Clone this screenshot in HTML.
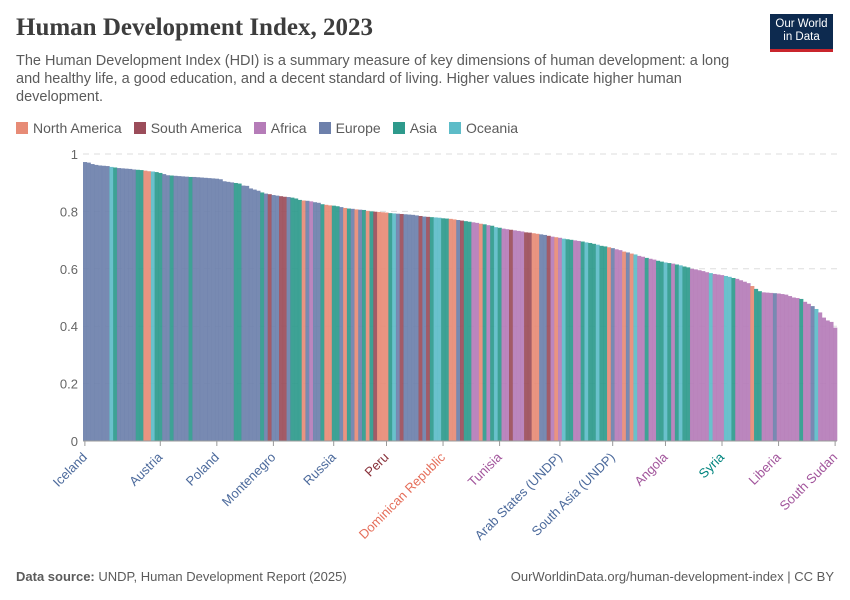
<!DOCTYPE html>
<html><head><meta charset="utf-8">
<style>
body{margin:0;background:#fff;font-family:"Liberation Sans",sans-serif;}
#wrap{position:relative;width:850px;height:600px;overflow:hidden;}
.title{position:absolute;left:16px;top:14px;font-family:"Liberation Serif",serif;font-size:25px;font-weight:bold;color:#3d3d3d;}
.sub{position:absolute;left:16px;top:52px;width:740px;font-size:14.5px;line-height:18px;color:#5b5b5b;}
.logo{position:absolute;left:770px;top:14px;width:63px;height:38px;background:#0d2a4f;color:#fff;font-size:11.5px;line-height:13px;text-align:center;padding-top:4px;box-sizing:border-box;border-bottom:3px solid #c9252c;}
.legend{position:absolute;left:16px;top:120px;font-size:14px;color:#5b5b5b;display:flex;gap:12px;}
.legend span.sw{display:inline-block;width:12px;height:12px;margin-right:5px;vertical-align:-1px;}
.foot{position:absolute;top:569px;font-size:13px;color:#5b5b5b;}
</style></head><body>
<div id="wrap">
<div class="title">Human Development Index, 2023</div>
<div class="sub">The Human Development Index (HDI) is a summary measure of key dimensions of human development: a long and healthy life, a good education, and a decent standard of living. Higher values indicate higher human development.</div>
<div class="logo">Our World<br>in Data</div>
<div class="legend">
<div><span class="sw" style="background:#e78b76"></span>North America</div>
<div><span class="sw" style="background:#9b4d5a"></span>South America</div>
<div><span class="sw" style="background:#b57cb8"></span>Africa</div>
<div><span class="sw" style="background:#6d80ab"></span>Europe</div>
<div><span class="sw" style="background:#2e9a8c"></span>Asia</div>
<div><span class="sw" style="background:#5dbcc8"></span>Oceania</div>
</div>
<svg id="svg" width="850" height="600" style="position:absolute;left:0;top:0"></svg>
<div class="foot" style="left:16px"><b>Data source:</b> UNDP, Human Development Report (2025)</div>
<div class="foot" style="right:16px">OurWorldinData.org/human-development-index | CC BY</div>
</div>
<script>
const values=[.972,.970,.965,.962,.960,.959,.958,.955,.953,.951,
.950,.949,.948,.946,.945,.944,.942,.940,.939,.937,
.934,.930,.926,.925,.924,.923,.922,.921,.920,.920,
.919,.918,.917,.916,.915,.914,.912,.905,.903,.901,
.899,.897,.890,.889,.880,.876,.872,.866,.862,.860,
.857,.855,.853,.851,.850,.848,.845,.840,.838,.837,
.835,.832,.830,.825,.823,.821,.820,.818,.815,.812,
.810,.809,.807,.806,.805,.802,.800,.799,.798,.797,
.796,.794,.793,.792,.791,.790,.789,.788,.786,.784,
.782,.781,.780,.779,.778,.776,.775,.774,.772,.770,
.768,.766,.764,.762,.760,.757,.755,.752,.750,.745,
.743,.740,.738,.736,.734,.732,.730,.727,.726,.724,
.722,.720,.718,.715,.712,.710,.708,.705,.703,.701,
.699,.697,.695,.692,.690,.687,.684,.680,.678,.675,
.672,.668,.665,.660,.657,.653,.650,.645,.642,.638,
.635,.632,.628,.625,.622,.620,.618,.615,.612,.608,
.605,.600,.598,.595,.592,.588,.585,.582,.580,.578,
.575,.572,.568,.565,.560,.555,.550,.540,.530,.522,
.518,.517,.516,.515,.514,.512,.510,.505,.500,.498,
.495,.485,.478,.470,.460,.448,.430,.420,.415,.395];
const regions=("EEEEEEEOAE"+"EEEEAANNOA"+"AEEAEEEEAE"+"EEEEEEEEEE"+"AAEEEEEAES"+"EESSEAAANE"+"FEEANNAAEN"+
"AENEANASNN"+"NAOESEEEES"+"ESAOOAANNE"+"SAAFFNAFAO"+"AFFSFFFSSN"+"NEESFNFOAA"+"FFAOAAOAAN"+
"EFFNENOFFA"+"FFAAOAFAOA"+"AFFFFFOFFF"+"OOAFFFFNAA"+"FFFEFFFFFF"+"AFFEOFFFFF").split('');
const yTicks=[0,0.2,0.4,0.6,0.8,1];
const labelNames=["Iceland","Austria","Poland","Montenegro","Russia","Peru","Dominican Republic","Tunisia","Arab States (UNDP)","South Asia (UNDP)","Angola","Syria","Liberia","South Sudan"];
const labelIdx=[0,20,35,50,66,80,95,110,126,140,154,169,184,199];
const labelColors=["#4c6a9c","#4c6a9c","#4c6a9c","#4c6a9c","#4c6a9c","#883039","#e56e5a","#a2559c","#4c6a9c","#4c6a9c","#a2559c","#00847e","#a2559c","#a2559c"];
const colorMap={E:"#6d80ab",A:"#2e9a8c",N:"#e78b76",S:"#9b4d5a",F:"#b57cb8",O:"#5dbcc8"};
const x0=83,x1=837,y0=441,y1=154;
const bw=(x1-x0)/values.length;
const X=i=>x0+i*bw;
const Y=v=>y0-(y0-y1)*v;
const svg=document.getElementById('svg');
const NS="http://www.w3.org/2000/svg";
function mk(t,a){const e=document.createElementNS(NS,t);for(const k in a)e.setAttribute(k,a[k]);svg.appendChild(e);return e;}
yTicks.forEach(t=>{
 const l=mk('line',{x1:x0,x2:x1,y1:Y(t),y2:Y(t),stroke:'#ddd','stroke-dasharray':'6,5'});
 
 
 const tx=mk('text',{x:78,y:Y(t)+5,'text-anchor':'end','font-size':13,fill:'#666','font-family':'Liberation Sans'});
 tx.textContent=String(t);
 
 
});
values.forEach((v,i)=>{
 const r=mk('rect',{x:X(i),y:Y(v),width:bw+0.3,height:Y(0)-Y(v),fill:colorMap[regions[i]]||"#b57cb8",'fill-opacity':0.92});
 
 
});
const ax=mk('line',{x1:x0,x2:x1,y1:y0,y2:y0,stroke:'#999'});


labelIdx.forEach((idx,k)=>{
 const cx=X(idx)+bw/2;
 const tk=mk('line',{x1:cx,x2:cx,y1:y0,y2:y0+5,stroke:'#999'});
 
 
 const t=mk('text',{x:cx+3,y:y0+17,'text-anchor':'end','font-size':13,fill:labelColors[k],'font-family':'Liberation Sans',transform:`rotate(-45 ${cx+3} ${y0+17})`});
 t.textContent=labelNames[k];
 
 
});
</script>
</body></html>
